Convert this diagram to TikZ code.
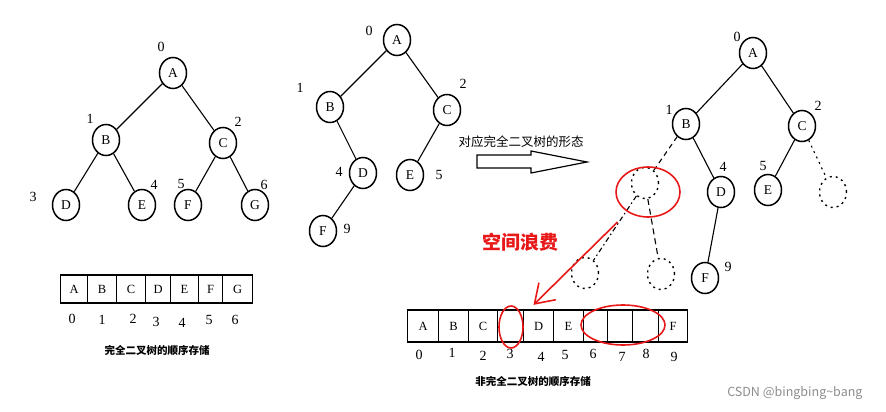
\documentclass[tikz,border=0pt]{standalone}
\usepackage{fontspec}
\setmainfont{Liberation Serif}
\newfontfamily\cjk{Noto Sans CJK SC}
\usetikzlibrary{shapes.geometric,arrows.meta}
\definecolor{wasteRed}{RGB}{232,24,24}
\definecolor{markGray}{RGB}{140,140,140}

\begin{document}
\begin{tikzpicture}[x=1pt, y=-1pt,
  tnode/.style={draw, ellipse, line width=1.5pt, minimum width=27pt, minimum height=31pt,
    inner sep=0pt, font=\fontsize{13.5}{15}\selectfont},
  ghost/.style={draw, ellipse, line width=1.4pt, dash pattern=on 2pt off 4pt,
    minimum width=27pt, minimum height=31pt, inner sep=0pt},
  edge/.style={line width=1.1pt},
  idx/.style={inner sep=1pt, font=\fontsize{14}{16}\selectfont},
  cell/.style={draw, line width=1.1pt, anchor=west, inner sep=0pt, font=\fontsize{12.5}{14}\selectfont},
  redring/.style={draw=wasteRed, ellipse, line width=1.6pt, inner sep=0pt},
  caption/.style={font=\cjk\bfseries\fontsize{10.5}{12}\selectfont}]
  \useasboundingbox (0,0) rectangle (886,412);

  %% Complete tree (left)
  \node[tnode] (a1) at (173,73)  {A};
  \node[tnode] (b1) at (106,140) {B};
  \node[tnode] (c1) at (223,143) {C};
  \node[tnode] (d1) at (66,205)  {D};
  \node[tnode] (e1) at (142,205) {E};
  \node[tnode] (f1) at (188,205) {F};
  \node[tnode] (g1) at (255,205) {G};
  \draw[edge] (a1) -- (b1);
  \draw[edge] (a1) -- (c1);
  \draw[edge] (b1) -- (d1);
  \draw[edge] (b1) -- (e1);
  \draw[edge] (c1) -- (f1);
  \draw[edge] (c1) -- (g1);
  \foreach \n/\x/\y in {0/161/47, 1/90/119, 2/238/122, 3/33/197, 4/154/185, 5/181/184, 6/264/185}
    \node[idx] (i1\n) at (\x,\y) {\n};

  %% Incomplete tree (middle)
  \node[tnode] (a2) at (397,40)  {A};
  \node[tnode] (b2) at (330,107) {B};
  \node[tnode] (c2) at (447,110) {C};
  \node[tnode] (d2) at (363,173) {D};
  \node[tnode] (e2) at (410,175) {E};
  \node[tnode] (f2) at (323,231) {F};
  \draw[edge] (a2) -- (b2);
  \draw[edge] (a2) -- (c2);
  \draw[edge] (b2) -- (d2);
  \draw[edge] (c2) -- (e2);
  \draw[edge] (d2) -- (f2);
  \foreach \n/\x/\y in {0/369/31, 1/300/88, 2/463/84, 4/339/172, 5/439/175, 9/347/229}
    \node[idx] (i2\n) at (\x,\y) {\n};

  %% Hollow arrow
  \node[font=\cjk\fontsize{12.5}{14}\selectfont] (shape) at (521,142) {对应完全二叉树的形态};
  \draw[line width=1.2pt] (477,155) -- (531,155) -- (531,151) -- (587,162) -- (531,173)
    -- (531,168) -- (477,168) -- cycle;

  %% Same tree drawn as complete tree (right)
  \node[tnode] (a3) at (753,53)  {A};
  \node[tnode] (b3) at (686,124) {B};
  \node[tnode] (c3) at (802,126) {C};
  \node[ghost] (x3) at (645,183) {};
  \node[tnode] (d3) at (721,192) {D};
  \node[tnode] (e3) at (768,190) {E};
  \node[ghost] (x6) at (833,192) {};
  \node[ghost] (x7) at (585,273) {};
  \node[ghost] (x8) at (661,274) {};
  \node[tnode] (f3) at (705,278) {F};
  \draw[edge] (a3) -- (b3);
  \draw[edge] (a3) -- (c3);
  \draw[edge] (b3) -- (d3);
  \draw[edge] (c3) -- (e3);
  \draw[edge] (d3) -- (f3);
  \draw[edge, dash pattern=on 5pt off 4pt] (b3) -- (x3);
  \draw[edge, dash pattern=on 2pt off 4pt] (c3) -- (x6);
  \draw[edge, dash pattern=on 5pt off 3pt on 1.5pt off 3pt] (x3) -- (x7);
  \draw[edge, dash pattern=on 6pt off 4pt] (x3) -- (x8);
  \foreach \n/\x/\y in {0/737/37, 1/669/110, 2/818/106, 4/723/167, 5/763/166, 9/728/267}
    \node[idx] (i3\n) at (\x,\y) {\n};

  %% Array of complete tree
  \foreach \l/\r/\t [count=\i from 0] in {60/87/A, 87/116/B, 116/145/C, 145/170/D,
      170/198/E, 198/222/F, 222/252/G}
    \node[cell, minimum width={\r-\l}, minimum height=28pt] (p\i) at (\l,289) {\t};
  \foreach \n/\x/\y in {0/72/319, 1/102/320, 2/133/319, 3/156/322, 4/182/323, 5/209/320, 6/235/320}
    \node[idx] (j\n) at (\x,\y) {\n};
  \node[caption] (cap1) at (157,350) {完全二叉树的顺序存储};

  %% Array of incomplete tree
  \foreach \l/\r/\t [count=\i from 0] in {407/438/A, 438/468/B, 468/497/C, 497/523/,
      523/553/D, 553/583/E, 583/607/, 607/632/, 632/658/, 658/687/F}
    \node[cell, minimum width={\r-\l}, minimum height=32pt] (q\i) at (\l,326) {\t};
  \foreach \n/\x/\y in {0/419/355, 1/452/353, 2/483/356, 3/510/354, 4/541/357,
      5/565/355, 6/593/354, 7/622/357, 8/646/354, 9/674/357}
    \node[idx] (k\n) at (\x,\y) {\n};
  \node[caption] (cap2) at (533,381) {非完全二叉树的顺序存储};

  %% Wasted space
  \node[redring, minimum width=64pt, minimum height=50pt] (waste) at (648,192) {};
  \node[redring, minimum width=24pt, minimum height=42pt] (gap3) at (511,327) {};
  \node[redring, minimum width=84pt, minimum height=40pt] (gap678) at (623,325) {};
  \node[text=wasteRed, font=\cjk\bfseries\fontsize{19}{22}\selectfont] (lost) at (520,242) {空间浪费};
  \draw[wasteRed, line width=1.6pt, -{Straight Barb[length=18pt, width=24pt]},
    shorten <=14pt, shorten >=16pt] (waste) -- (gap3);

  \node[text=markGray, anchor=east, font=\cjk\fontsize{12.5}{14}\selectfont] (mark)
    at (866,393) {CSDN @bingbing\textasciitilde bang};
\end{tikzpicture}
\end{document}
